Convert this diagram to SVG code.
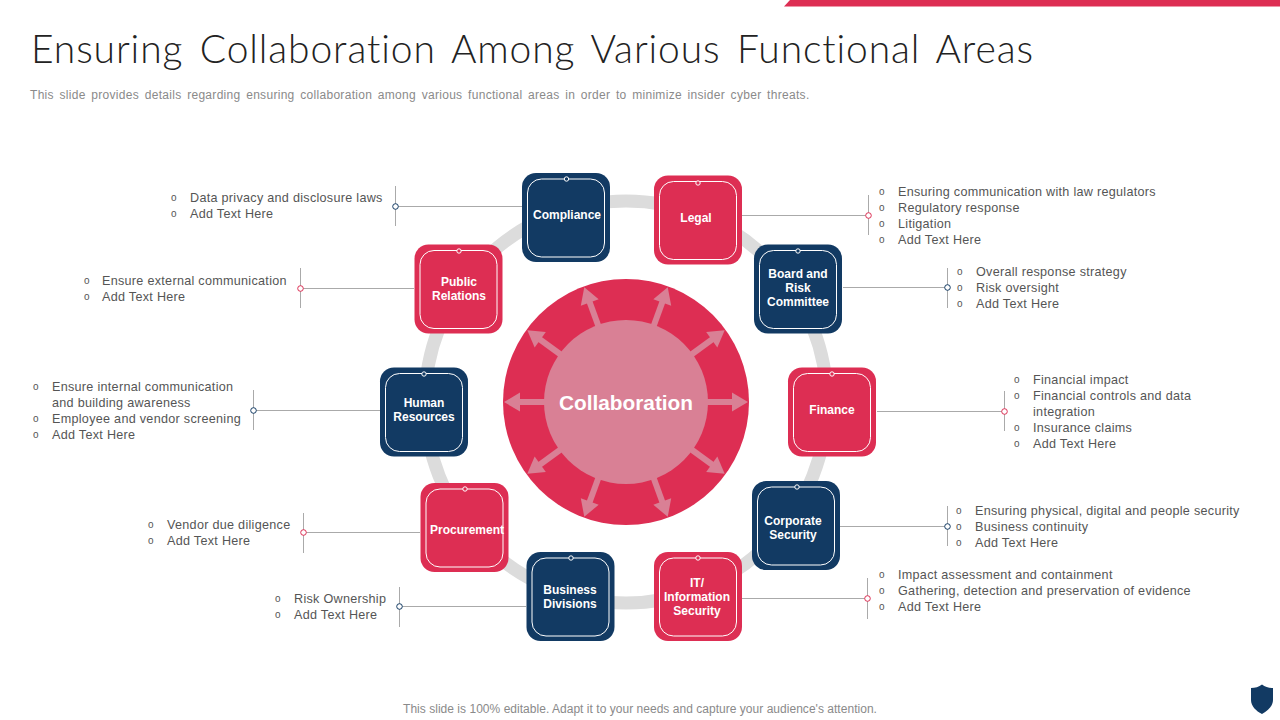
<svg xmlns="http://www.w3.org/2000/svg" width="1280" height="720" viewBox="0 0 1280 720">
<style>
text{font-family:"Liberation Sans",Arial,sans-serif}
.title{font-family:Lato,"Liberation Sans",sans-serif;font-size:39px;font-weight:300;fill:#222;word-spacing:5px;font-variant-ligatures:none}
.sub{font-size:12px;fill:#8a8a8a;letter-spacing:.3px;word-spacing:2px}
.foot{font-size:12px;fill:#8a8a8a;letter-spacing:.03px}
.t{font-size:12.6px;fill:#555;letter-spacing:.29px}
.b{font-size:10px;fill:#555}
.n{font-size:12px;font-weight:bold;fill:#fff;text-anchor:middle}
.red use{fill:#dd2e53}.blue use{fill:#123a63}
.i{fill:none;stroke:#fff;stroke-width:1}
.red .p{fill:#fff;stroke:#dd2e53}.blue .p{fill:#fff;stroke:#123a63}
.top{fill:#dd2e53;stroke:#fff;stroke-width:1}
.blue .top{fill:#123a63}
.l{stroke:#aaa;stroke-width:1;fill:none}
.ar{stroke:#d98095;stroke-width:6;fill:none}
.ah{fill:#d98095}
</style>
<defs>
<g id="box"><rect x="-44" y="-44.500" width="88" height="89" rx="14"/><rect class="i" x="-38.500" y="-38.500" width="77" height="78" rx="14"/></g>
<g id="arrow"><path class="ar" d="M80 0H108"/><path class="ah" d="M122 0L106 -9.500V9.500Z"/></g>
</defs>
<path d="M790 0H1280V6.500H784Z" fill="#dd2e53"/>
<text class="title" x="31" y="63" textLength="1002" lengthAdjust="spacing">Ensuring Collaboration Among Various Functional Areas</text>
<text class="sub" x="30" y="99">This slide provides details regarding ensuring collaboration among various functional areas in order to minimize insider cyber threats.</text>
<circle cx="626" cy="402" r="201" fill="none" stroke="#dcdcdc" stroke-width="13"/>
<g id="connectors">
<path class="l" d="M522 206.500H395.500M395.500 186V226"/>
<path class="l" d="M414 288.500H300.500M300.500 268V308"/>
<path class="l" d="M380 410.500H253.500M253.500 390V430"/>
<path class="l" d="M420 532.500H303.500M303.500 513V553"/>
<path class="l" d="M526 606.500H399.500M399.500 587V627"/>
<path class="l" d="M742 215.500H868.500M868.500 195V235"/>
<path class="l" d="M843 287.500H947.500M947.500 268V308"/>
<path class="l" d="M877 411.500H1004.500M1004.500 391V431"/>
<path class="l" d="M840 526.500H947.500M947.500 506V546"/>
<path class="l" d="M742 598.500H867.500M867.500 578V619"/>
</g>
<g id="center">
<circle cx="626" cy="402" r="123" fill="#dd2e53"/>
<circle cx="626" cy="402" r="82" fill="#d98095"/>
<use href="#arrow" transform="translate(626 402) rotate(0)"/>
<use href="#arrow" transform="translate(626 402) rotate(36)"/>
<use href="#arrow" transform="translate(626 402) rotate(70)"/>
<use href="#arrow" transform="translate(626 402) rotate(110)"/>
<use href="#arrow" transform="translate(626 402) rotate(144)"/>
<use href="#arrow" transform="translate(626 402) rotate(180)"/>
<use href="#arrow" transform="translate(626 402) rotate(216)"/>
<use href="#arrow" transform="translate(626 402) rotate(250)"/>
<use href="#arrow" transform="translate(626 402) rotate(290)"/>
<use href="#arrow" transform="translate(626 402) rotate(324)"/>
<text x="626" y="410" font-size="20.800" font-weight="bold" fill="#fff" text-anchor="middle">Collaboration</text>
</g>
<g id="compliance" class="blue"><use href="#box" x="566" y="217.500"/><circle class="top" cx="566.500" cy="179" r="2.200"/><text class="n" x="567" y="219">Compliance</text>
<circle class="p" cx="395.500" cy="206.500" r="2.800"/><text class="b" x="171" y="201">o</text><text class="t" x="190" y="202">Data privacy and disclosure laws</text><text class="b" x="171" y="217">o</text><text class="t" x="190" y="218">Add Text Here</text></g>
<g id="legal" class="red"><use href="#box" x="698" y="220"/><circle class="top" cx="698" cy="183" r="2.200"/><text class="n" x="696" y="222">Legal</text>
<circle class="p" cx="868.500" cy="215.500" r="2.800"/><text class="b" x="879" y="195">o</text><text class="t" x="898" y="196">Ensuring communication with law regulators</text><text class="b" x="879" y="211">o</text><text class="t" x="898" y="212">Regulatory response</text><text class="b" x="879" y="227">o</text><text class="t" x="898" y="228">Litigation</text><text class="b" x="879" y="243">o</text><text class="t" x="898" y="244">Add Text Here</text></g>
<g id="board" class="blue"><use href="#box" x="798" y="289"/><circle class="top" cx="798" cy="251" r="2.200"/><text class="n" x="798" y="278">Board and</text><text class="n" x="798" y="292">Risk</text><text class="n" x="798" y="306">Committee</text>
<circle class="p" cx="947.500" cy="287.500" r="2.800"/><text class="b" x="957" y="275">o</text><text class="t" x="976" y="276">Overall response strategy</text><text class="b" x="957" y="291">o</text><text class="t" x="976" y="292">Risk oversight</text><text class="b" x="957" y="307">o</text><text class="t" x="976" y="308">Add Text Here</text></g>
<g id="finance" class="red"><use href="#box" x="832" y="412"/><circle class="top" cx="832" cy="374" r="2.200"/><text class="n" x="832" y="414">Finance</text>
<circle class="p" cx="1004.500" cy="411.500" r="2.800"/><text class="b" x="1014" y="383">o</text><text class="t" x="1033" y="384">Financial impact</text><text class="b" x="1014" y="399">o</text><text class="t" x="1033" y="400">Financial controls and data</text><text class="t" x="1033" y="416">integration</text><text class="b" x="1014" y="431">o</text><text class="t" x="1033" y="432">Insurance claims</text><text class="b" x="1014" y="447">o</text><text class="t" x="1033" y="448">Add Text Here</text></g>
<g id="corporate" class="blue"><use href="#box" x="796" y="525.500"/><circle class="top" cx="797" cy="487" r="2.200"/><text class="n" x="793" y="525">Corporate</text><text class="n" x="793" y="539">Security</text>
<circle class="p" cx="947.500" cy="526.500" r="2.800"/><text class="b" x="956" y="514">o</text><text class="t" x="975" y="515">Ensuring physical, digital and people security</text><text class="b" x="956" y="530">o</text><text class="t" x="975" y="531">Business continuity</text><text class="b" x="956" y="546">o</text><text class="t" x="975" y="547">Add Text Here</text></g>
<g id="it" class="red"><use href="#box" x="698" y="596.500"/><circle class="top" cx="698" cy="558" r="2.200"/><text class="n" x="697" y="587">IT/</text><text class="n" x="697" y="601">Information</text><text class="n" x="697" y="615">Security</text>
<circle class="p" cx="867.500" cy="598.500" r="2.800"/><text class="b" x="879" y="578">o</text><text class="t" x="898" y="579">Impact assessment and containment</text><text class="b" x="879" y="594">o</text><text class="t" x="898" y="595">Gathering, detection and preservation of evidence</text><text class="b" x="879" y="610">o</text><text class="t" x="898" y="611">Add Text Here</text></g>
<g id="business" class="blue"><use href="#box" x="570.500" y="596.500"/><circle class="top" cx="571" cy="558" r="2.200"/><text class="n" x="570" y="594">Business</text><text class="n" x="570" y="608">Divisions</text>
<circle class="p" cx="399.500" cy="606.500" r="2.800"/><text class="b" x="275" y="602">o</text><text class="t" x="294" y="603">Risk Ownership</text><text class="b" x="275" y="618">o</text><text class="t" x="294" y="619">Add Text Here</text></g>
<g id="procurement" class="red"><use href="#box" x="464.500" y="527.500"/><circle class="top" cx="465" cy="489" r="2.200"/><text class="n" x="467" y="534">Procurement</text>
<circle class="p" cx="303.500" cy="532.500" r="2.800"/><text class="b" x="148" y="528">o</text><text class="t" x="167" y="529">Vendor due diligence</text><text class="b" x="148" y="544">o</text><text class="t" x="167" y="545">Add Text Here</text></g>
<g id="hr" class="blue"><use href="#box" x="424" y="412"/><circle class="top" cx="424" cy="374" r="2.200"/><text class="n" x="424" y="407">Human</text><text class="n" x="424" y="421">Resources</text>
<circle class="p" cx="253.500" cy="410.500" r="2.800"/><text class="b" x="33" y="390">o</text><text class="t" x="52" y="391">Ensure internal communication</text><text class="t" x="52" y="407">and building awareness</text><text class="b" x="33" y="422">o</text><text class="t" x="52" y="423">Employee and vendor screening</text><text class="b" x="33" y="438">o</text><text class="t" x="52" y="439">Add Text Here</text></g>
<g id="pr" class="red"><use href="#box" x="458.500" y="289"/><circle class="top" cx="459" cy="251" r="2.200"/><text class="n" x="459" y="286">Public</text><text class="n" x="459" y="300">Relations</text>
<circle class="p" cx="300.500" cy="288.500" r="2.800"/><text class="b" x="84" y="284">o</text><text class="t" x="102" y="285">Ensure external communication</text><text class="b" x="84" y="300">o</text><text class="t" x="102" y="301">Add Text Here</text></g>
<text class="foot" x="640" y="713" text-anchor="middle">This slide is 100% editable. Adapt it to your needs and capture your audience's attention.</text>
<path id="shield" d="M1262 684.500C1265 687 1269 688 1273 688V700C1273 706 1268 711 1262 714C1256 711 1251 706 1251 700V688C1255 688 1259 687 1262 684.500Z" fill="#123a63"/>
</svg>
